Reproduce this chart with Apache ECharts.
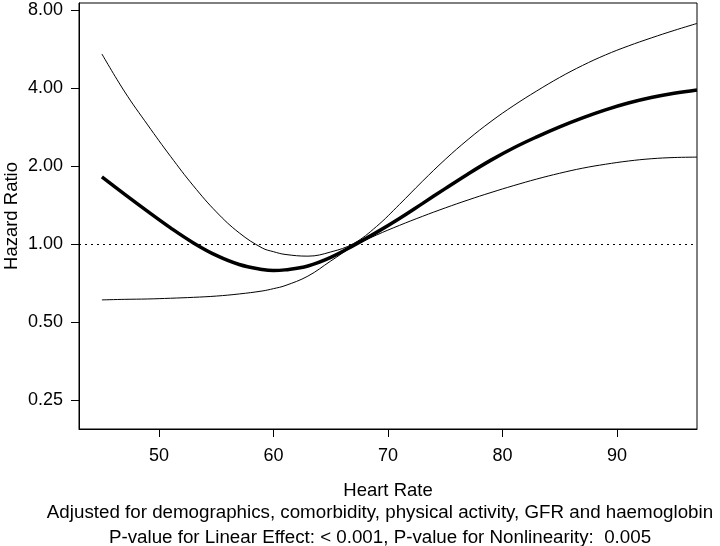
<!DOCTYPE html>
<html>
<head>
<meta charset="utf-8">
<script src="https://cdn.jsdelivr.net/npm/echarts@6/dist/echarts.min.js"></script>
<style>
html,body{margin:0;padding:0;background:#fff;}
#chart{width:720px;height:546px;}
</style>
</head>
<body>
<div id="chart"></div>
<script>
// Heart rate values (x)
const heartRate = [45,47,49,51,53,55,57,59,60,61,63,65,67,69,71,73,75,77,79,81,83,85,87,89,91,93,95,97];
// Hazard ratio estimate (thick line)
const hrEstimate = [1.814,1.553,1.335,1.153,1.009,0.903,0.833,0.797,0.789,0.794,0.822,0.887,0.987,1.108,1.254,1.431,1.635,1.863,2.106,2.351,2.590,2.831,3.067,3.293,3.498,3.673,3.816,3.930];
// Upper 95% CI
const hrUpper = [5.41,3.86,2.88,2.177,1.675,1.329,1.103,0.965,0.933,0.911,0.897,0.931,1.004,1.168,1.420,1.743,2.119,2.531,2.970,3.424,3.895,4.391,4.885,5.363,5.809,6.238,6.668,7.096];
// Lower 95% CI
const hrLower = [0.608,0.611,0.613,0.617,0.622,0.629,0.641,0.658,0.672,0.690,0.751,0.859,0.981,1.082,1.179,1.277,1.377,1.478,1.579,1.680,1.780,1.874,1.960,2.030,2.089,2.132,2.155,2.163];
// Tick values
const xTicks = [50,60,70,80,90];
const yTicks = [0.25,0.5,1,2,4,8];
const refLine = 1;
const footnote1 = "Adjusted for demographics, comorbidity, physical activity, GFR and haemoglobin";
const footnote2 = "P-value for Linear Effect: < 0.001, P-value for Nonlinearity:  0.005";

const FONT = "'Liberation Sans', Arial, Helvetica, sans-serif";
const pairs = ys => heartRate.map((x,i)=>[x, ys[i]]);

const chart = echarts.init(document.getElementById('chart'), null, {renderer:'canvas'});
chart.setOption({
  animation:false,
  backgroundColor:'#fff',
  grid:{left:79, top:3, right:23, bottom:117, containLabel:false, outerBoundsMode:'none',
    show:true, borderColor:'#000', borderWidth:1, backgroundColor:'transparent'},
  xAxis:{
    type:'value', min:43, max:97,
    name:'Heart Rate', nameLocation:'middle', nameGap:52, nameMoveOverlap:false,
    nameTextStyle:{fontFamily:FONT, fontSize:18.5, color:'#000'},
    axisLine:{show:true, lineStyle:{color:'#000', width:1}},
    axisTick:{show:true, inside:false, length:8, lineStyle:{color:'#000'}, customValues:xTicks},
    axisLabel:{fontFamily:FONT, fontSize:18, color:'#000', margin:18, customValues:xTicks},
    splitLine:{show:false}
  },
  yAxis:{
    type:'log', logBase:2, min:0.193, max:8.51,
    name:'Hazard Ratio', nameLocation:'middle', nameGap:58, nameMoveOverlap:false,
    nameTextStyle:{fontFamily:FONT, fontSize:18.5, color:'#000'},
    axisLine:{show:true, lineStyle:{color:'#000', width:1}},
    axisTick:{show:true, inside:false, length:8, lineStyle:{color:'#000'}, customValues:yTicks},
    axisLabel:{fontFamily:FONT, fontSize:18, color:'#000', margin:16, customValues:yTicks,
      formatter:v=>Number(v).toFixed(2)},
    splitLine:{show:false}
  },
  series:[
    {type:'line', data:pairs(hrUpper), smooth:0.4, showSymbol:false, lineStyle:{color:'#000', width:1}, z:3},
    {type:'line', data:pairs(hrLower), smooth:0.4, showSymbol:false, lineStyle:{color:'#000', width:1}, z:3},
    {type:'line', data:pairs(hrEstimate), smooth:0.4, showSymbol:false, lineStyle:{color:'#000', width:3.5}, z:4,
      markLine:{silent:true, symbol:['none','none'], label:{show:false},
        lineStyle:{color:'#000', width:1, type:[2,4]}, data:[{yAxis:refLine}]}}
  ],
  graphic:[
    {type:'text', x:380, y:513, style:{text:footnote1, align:'center', verticalAlign:'middle', font:'18.75px '+FONT, fill:'#000'}},
    {type:'text', x:380, y:537.5, style:{text:footnote2, align:'center', verticalAlign:'middle', font:'18.75px '+FONT, fill:'#000'}}
  ]
});
</script>
</body>
</html>
